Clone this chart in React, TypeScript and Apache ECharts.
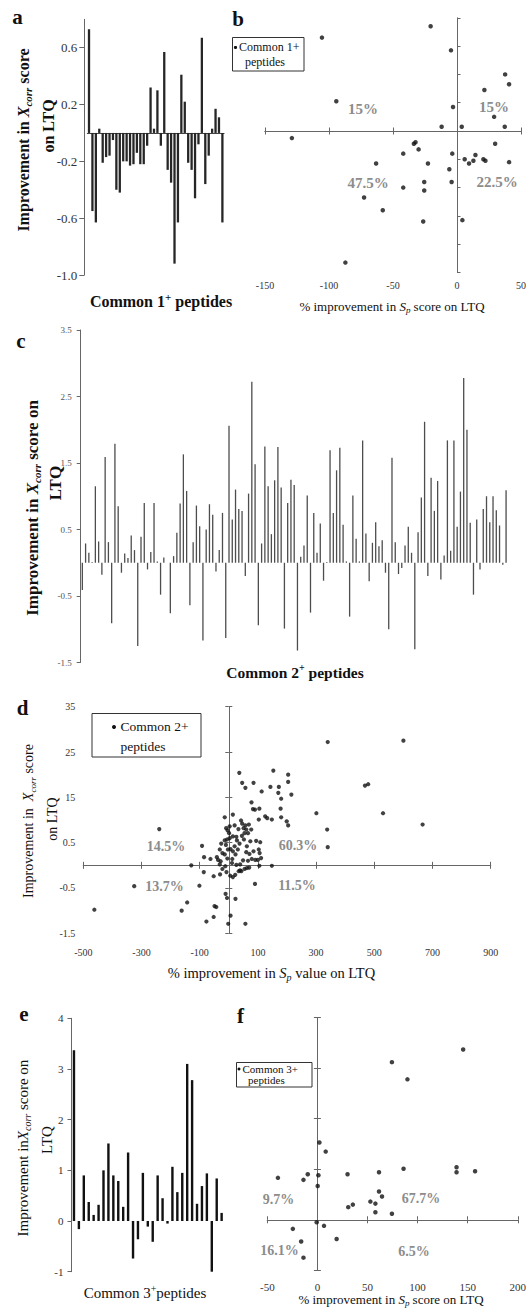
import React, { useEffect, useRef } from "react";
import * as echarts from "echarts";

// ---------- data ----------
const aValues = [0.73, -0.55, -0.63, 0.03, -0.21, -0.17, -0.16, -0.05, -0.4, -0.42, -0.2, -0.2, -0.23, -0.22, -0.14, -0.22, -0.22, -0.09, 0.32, 0.03, 0.3, -0.09, 0.57, -0.26, -0.35, -0.92, -0.63, 0.41, 0.22, -0.21, -0.26, -0.46, -0.08, 0.67, -0.36, -0.16, 0.03, 0.17, 0.11, -0.63];
const aTicks = [-1.0, -0.6, -0.2, 0.2, 0.6];

const bPoints = [
  [-20.6, 0.74], [-105.5, 0.66], [-4.7, 0.57], [37.6, 0.4], [40.7, 0.33], [21.4, 0.29], [-94.3, 0.21], [-3.1, 0.17], [29.0, 0.1], [-12.0, 0.03], [3.7, 0.03], [37.3, 0.03],
  [-129, -0.05], [-33.7, -0.09], [-32.4, -0.08], [29.8, -0.09], [-30.0, -0.13], [-42.0, -0.16], [-3.7, -0.16], [6.0, -0.2], [14.4, -0.17], [9.4, -0.23], [12.8, -0.21], [20.6, -0.2],
  [22.2, -0.21], [40.7, -0.22], [-63.2, -0.23], [-22.7, -0.23], [-6.0, -0.27], [-25.6, -0.36], [-4.2, -0.36], [-42.0, -0.4], [-25.6, -0.42], [-72.6, -0.47], [-58.0, -0.56], [-26.4, -0.64],
  [4.2, -0.63], [-87.2, -0.93]
];
const bXTicks = [-150, -100, -50, 0, 50];

const cValues = [
  -0.41, 0.29, 0.15, 0.01, 1.15, 0.32, -0.18, 1.59, 0.31, -0.91,
  1.79, 0.85, -0.15, 0.14, 0.07, 0.41, 0.19, -1.25, 0.39, 0.9,
  -0.1, 0.16, 0.9, 0.02, -0.48, 0.08, 0, -0.76, 0.1, 0.45,
  0.89, 1.63, 1.08, -0.64, 0.31, 0.86, 0.55, -1.17, 0.5, 0.88,
  0.72, -0.13, 0.19, 0.75, -1.13, 2.06, 0.65, 1.1, 0.81, 0.78,
  -0.2, 1.04, 2.72, 1.48, -0.94, 0.29, 1.75, 1.15, 0.43, 1.24,
  1.74, 1.13, -0.99, 0.9, 1.25, 1.17, -1.32, 0.09, 0.26, 1.01,
  -0.75, 0.75, 0.15, 0.59, -0.27, 0.01, 1.69, 0.75, 1.39, 1.73,
  0.57, 0.02, -0.81, 1.01, 0.36, 0.02, 1.84, 0.44, -0.28, 0.3,
  0.61, 0.25, 0.34, -0.15, -1.0, 1.58, 0.31, -0.17, -0.08, 0.26,
  0.54, 0.15, -1.3, 0.46, 0.98, 2.12, -0.2, 1.28, 0.78, 1.23,
  -0.25, 0.11, 1.84, 0.18, 1.84, 0.54, 1.07, 2.78, 2.0, 0.6,
  -0.48, 0.65, -0.1, 0.81, 1.0, 0.61, 1.0, 0.79, 0.56, -0.03,
  1.09
];
const cTicks = [-1.5, -0.5, 0.5, 1.5, 2.5, 3.5];

const dPoints = [
  [340, 2.72], [600, 2.75], [468, 1.76], [479, 1.79], [301, 1.15], [530, 1.15], [666, 0.9], [338, 0.79], [340, 0.4], [-239, 0.8],
  [-462, -0.98], [-325, -0.46], [-143, -0.82], [-162, -1.0], [-129, 0.0], [-92, 0.43], [-86, -0.15], [-101, -0.45], [-85, 0.18], [-63, 0.14],
  [-52, -0.24], [-52, -1.14], [-77, -1.24], [-49, -0.9], [-43, -0.92], [-2, -1.29], [6, -1.11], [57, -1.29], [23, -0.74], [-11, -0.63],
  [-6, -0.72], [90, -0.41], [148, -0.01], [105, -0.01],
  [36, 2.04], [46, 1.82], [57, 1.71], [85, 1.82], [153, 2.09], [204, 2.0], [204, 1.84], [215, 1.56], [143, 1.73], [172, 1.73],
  [170, 1.6], [180, 1.47], [113, 1.63], [78, 1.39], [90, 1.23], [83, 1.24], [105, 1.25], [103, 1.01], [125, 1.08], [132, 1.04],
  [148, 1.01], [178, 1.25], [180, 1.06], [199, 0.97], [204, 0.88], [14, 1.12], [-14, 1.06],
  [-9, 0.82], [-4, 0.77], [1, 0.71], [3, 0.6], [14, 0.64], [26, 0.63], [-6, 0.57], [-14, 0.55], [-26, 0.48], [-31, 0.35],
  [-22, 0.27], [-14, 0.24], [-3, 0.35], [6, 0.36], [14, 0.31], [23, 0.24], [20, 0.42], [31, 0.35], [37, 0.48], [28, 0.55],
  [42, 0.99], [46, 0.92], [51, 0.82], [57, 0.88], [60, 0.79], [66, 0.71], [45, 0.65], [52, 0.57], [62, 0.42], [74, 0.53],
  [85, 0.31], [71, 0.25], [79, 0.14], [91, 0.12], [100, 0.12], [106, 0.27], [111, 0.16], [66, 0.1], [49, 0.11], [39, 0.02],
  [26, 0.01], [11, 0.05], [-28, 0.09], [-37, 0.12], [-41, 0.18], [-31, 0.02], [-12, -0.02], [-22, -0.08], [5, -0.23], [14, -0.26],
  [22, -0.21], [34, -0.13], [39, -0.11], [54, -0.08], [62, -0.06], [43, -0.13], [108, 0.51], [103, 0.35], [94, 0.54],
  [-10, 0.45], [-5, 0.15], [-8, -0.15], [-30, -0.2], [70, -0.05], [3, 0.86], [20, 0.88], [33, 0.8], [54, 0.71], [69, 0.9],
  [60, 0.29], [12, 0.14], [77, 0.79]
];
const dXTicks = [-500, -300, -100, 100, 300, 500, 700, 900];
const dYTicks = [-1.5, -0.5, 0.5, 1.5, 2.5, 3.5];
const dYLabels = ["-1.5", "-0.5", "0.5", "15", "25", "35"];

const eValues = [3.37, -0.16, 0.9, 0.375, 0.12, 0.32, 1.0, 1.53, 0.9, 0.79, 0.28, 1.35, -0.74, -0.36, 0.95, -0.11, -0.41, 0.9, 0.45, -0.05, 1.07, 0.57, 0.95, 3.1, 2.78, 0.34, 0.69, 0.94, -1.22, 0.84, 0.16];

const fPoints = [
  [145.5, 3.37], [74.4, 3.12], [89.9, 2.78], [2.0, 1.53], [8.3, 1.35], [86, 1.01], [138.9, 1.04], [138.9, 0.94], [157.4, 0.96], [-39.4, 0.83],
  [-9.6, 0.9], [-13.9, 0.79], [1.0, 0.88], [30.1, 0.9], [61.5, 0.94], [0.3, 0.67], [61.5, 0.56], [64.5, 0.46], [52.9, 0.36], [57.9, 0.32],
  [30.8, 0.25], [35.4, 0.3], [57.9, 0.15], [74.4, 0.12], [-0.7, -0.05], [6.6, -0.12], [19.2, -0.38], [-24.5, -0.18], [-16.2, -0.43], [-13.9, -0.75]
];

// ---------- styling helpers ----------
const SERIF = '"Liberation Serif", "Times New Roman", Times, serif';
const AX = "#666";
const INK = "#111";
const GRAY = "#8c8c8c";

function richSet(size: number, weight: string) {
  const sub = Math.round(size * 0.66);
  return {
    n: { fontSize: size, fontWeight: weight, fontFamily: SERIF, fill: INK, lineHeight: size + 4 },
    i: { fontSize: size, fontWeight: weight, fontStyle: "italic", fontFamily: SERIF, fill: INK, lineHeight: size + 4 },
    sub: { fontSize: sub, fontWeight: weight, fontStyle: "italic", fontFamily: SERIF, fill: INK, lineHeight: sub, verticalAlign: "bottom" },
    sup: { fontSize: sub, fontWeight: weight, fontFamily: SERIF, fill: INK, lineHeight: sub, verticalAlign: "top" },
  };
}

function txt(x: number, y: number, text: string, o: any = {}) {
  const size = o.size ?? 14;
  const weight = o.weight ?? "normal";
  const align = o.align ?? "center";
  return {
    type: "text",
    x,
    y,
    rotation: o.rot ? Math.PI / 2 : 0,
    silent: true,
    style: {
      text,
      fontSize: size,
      fontWeight: weight,
      fontFamily: SERIF,
      fill: o.color ?? INK,
      align,
      textAlign: align,
      verticalAlign: "middle",
      textVerticalAlign: "middle",
      rich: o.rich ? richSet(size, weight) : undefined,
    },
  };
}

const noSplit = { show: false };

function labelAxisX(grid: number, min: number, max: number, ticks: number[], size: number, margin: number) {
  return {
    type: "value", gridIndex: grid, min, max, position: "bottom",
    axisLine: { show: false, onZero: false },
    axisTick: { show: false },
    splitLine: noSplit,
    axisLabel: { customValues: ticks, fontSize: size, fontFamily: SERIF, color: "#333", margin, formatter: (v: number) => String(v) },
  };
}
function tickAxisX(grid: number, min: number, max: number, ticks: number[], inside: boolean, yIdx: number) {
  return {
    type: "value", gridIndex: grid, min, max, position: "bottom",
    axisLine: { show: true, onZero: true, onZeroAxisIndex: yIdx, lineStyle: { color: AX, width: 1 } },
    axisTick: { show: true, customValues: ticks, inside, length: 3.5, lineStyle: { color: AX, width: 1 } },
    axisLabel: { show: false },
    splitLine: noSplit,
  };
}
function tickAxisY(grid: number, min: number, max: number, ticks: number[], inside: boolean, xIdx: number) {
  return {
    type: "value", gridIndex: grid, min, max, position: "left",
    axisLine: { show: true, onZero: true, onZeroAxisIndex: xIdx, lineStyle: { color: AX, width: 1 } },
    axisTick: { show: true, customValues: ticks, inside, length: 3.5, lineStyle: { color: AX, width: 1 } },
    axisLabel: { show: false },
    splitLine: noSplit,
  };
}
function range(a: number, b: number, step: number) {
  const out: number[] = [];
  for (let v = a; v <= b + 1e-9; v += step) out.push(Math.round(v * 1000) / 1000);
  return out;
}

function buildOption() {
  const aCats = aValues.map((_, i) => String(i + 1));
  const cCats = cValues.map((_, i) => String(i + 1));
  const eCats = eValues.map((_, i) => String(i + 1));

  const grid = [
    { left: 87.3, top: 19.3, width: 136.8, height: 255.7 }, // a
    { left: 265, top: 17.8, width: 257, height: 254.7 }, // b
    { left: 80.7, top: 330, width: 427, height: 332.5 }, // c
    { left: 83.3, top: 706.7, width: 407.4, height: 226.6 }, // d
    { left: 71.5, top: 1018.3, width: 152.6, height: 253.4 }, // e
    { left: 267.3, top: 1017.7, width: 252, height: 252.6 }, // f
  ];

  const bYTicks = range(-1, 0.8, 0.2);
  const fYTicks = range(-1, 4, 1);
  const fXTicks = range(-50, 200, 50);

  const xAxis = [
    // 0: a
    { type: "category", gridIndex: 0, data: aCats, axisLine: { show: true, onZero: true, lineStyle: { color: "#444", width: 1 } }, axisTick: { show: false }, axisLabel: { show: false } },
    // 1-3: b
    labelAxisX(1, -150, 50, bXTicks, 10, 8),
    tickAxisX(1, -150, 50, bXTicks, false, 1),
    tickAxisX(1, -150, 50, bXTicks, true, 1),
    // 4: c
    { type: "category", gridIndex: 2, data: cCats, axisLine: { show: false }, axisTick: { show: false }, axisLabel: { show: false } },
    // 5-7: d
    labelAxisX(3, -500, 900, dXTicks, 10, 14),
    tickAxisX(3, -500, 900, dXTicks, false, 3),
    tickAxisX(3, -500, 900, dXTicks, true, 3),
    // 8: e
    { type: "category", gridIndex: 4, data: eCats, axisLine: { show: false }, axisTick: { show: false }, axisLabel: { show: false } },
    // 9-11: f
    labelAxisX(5, -50, 200, fXTicks, 11, 11),
    tickAxisX(5, -50, 200, fXTicks, false, 7),
    tickAxisX(5, -50, 200, fXTicks, true, 7),
  ];

  const yAxis = [
    // 0: a
    {
      type: "value", gridIndex: 0, min: -1.0, max: 0.8, offset: 3,
      axisLine: { show: true, onZero: false, lineStyle: { color: AX, width: 1 } },
      axisTick: { show: true, customValues: aTicks, length: 5, lineStyle: { color: AX } },
      axisLabel: { customValues: aTicks, fontSize: 13, fontFamily: SERIF, color: "#333", margin: 7, formatter: (v: number) => v.toFixed(1) },
      splitLine: noSplit,
    },
    // 1: b (line on x = 0, ticks to the right)
    tickAxisY(1, -1.0, 0.8, bYTicks, true, 1),
    // 2: c
    {
      type: "value", gridIndex: 2, min: -1.5, max: 3.5,
      axisLine: { show: true, onZero: false, lineStyle: { color: AX, width: 1 } },
      axisTick: { show: true, customValues: cTicks, length: 4, lineStyle: { color: AX } },
      axisLabel: { customValues: cTicks, fontSize: 9, fontFamily: SERIF, color: "#555", margin: 9, formatter: (v: number) => v.toFixed(1) },
      splitLine: noSplit,
    },
    // 3: d labels
    {
      type: "value", gridIndex: 3, min: -1.5, max: 3.5, position: "left",
      axisLine: { show: false, onZero: false },
      axisTick: { show: false },
      axisLabel: {
        customValues: dYTicks, fontSize: 10, fontFamily: SERIF, color: "#333", margin: 8,
        formatter: (v: number) => {
          const k = dYTicks.findIndex((t) => Math.abs(t - v) < 1e-6);
          return k >= 0 ? dYLabels[k] : "";
        },
      },
      splitLine: noSplit,
    },
    // 4-5: d tick axes
    tickAxisY(3, -1.5, 3.5, dYTicks, false, 5),
    tickAxisY(3, -1.5, 3.5, dYTicks, true, 5),
    // 6: e
    {
      type: "value", gridIndex: 4, min: -1, max: 4, interval: 1,
      axisLine: { show: true, onZero: false, lineStyle: { color: AX, width: 1 } },
      axisTick: { show: true, length: 4, lineStyle: { color: AX } },
      axisLabel: { fontSize: 11, fontFamily: SERIF, color: "#333", margin: 8 },
      splitLine: noSplit,
    },
    // 7-8: f
    tickAxisY(5, -1, 4, fYTicks, false, 9),
    tickAxisY(5, -1, 4, fYTicks, true, 9),
  ];

  const series = [
    { type: "bar", xAxisIndex: 0, yAxisIndex: 0, data: aValues, barWidth: 2.3, itemStyle: { color: "#262626" }, silent: true },
    { type: "scatter", xAxisIndex: 1, yAxisIndex: 1, data: bPoints, symbol: "circle", symbolSize: 4.5, itemStyle: { color: INK }, silent: true },
    { type: "bar", xAxisIndex: 4, yAxisIndex: 2, data: cValues, barWidth: 1.3, itemStyle: { color: "#4d4d4d" }, silent: true },
    { type: "scatter", xAxisIndex: 5, yAxisIndex: 3, data: dPoints, symbol: "circle", symbolSize: 4.2, itemStyle: { color: INK }, silent: true },
    { type: "bar", xAxisIndex: 8, yAxisIndex: 6, data: eValues, barWidth: 2.4, itemStyle: { color: INK }, silent: true },
    { type: "scatter", xAxisIndex: 9, yAxisIndex: 7, data: fPoints, symbol: "circle", symbolSize: 4.5, itemStyle: { color: INK }, silent: true },
  ];

  const xcorr = (pre: string, post: string) => `{n|${pre}}{i|X}{sub|corr}{n|${post}}`;
  const sp = (pre: string, post: string) => `{n|${pre}}{i|S}{sub|p}{n|${post}}`;

  const elements: any[] = [
    // panel letters
    txt(17.5, 17, "a", { size: 21, weight: "bold" }),
    txt(238, 19, "b", { size: 21, weight: "bold" }),
    txt(21, 341, "c", { size: 21, weight: "bold" }),
    txt(22.5, 708, "d", { size: 21, weight: "bold" }),
    txt(24, 1014, "e", { size: 21, weight: "bold" }),
    txt(240.5, 1016, "f", { size: 21, weight: "bold" }),

    // panel a
    txt(23, 140, xcorr("Improvement in ", " score"), { size: 16, weight: "bold", rot: true, rich: true }),
    txt(48, 126, "{n|on LTQ}", { size: 16, weight: "bold", rot: true, rich: true }),
    txt(161, 301, "{n|Common 1}{sup|+}{n| peptides}", { size: 16, weight: "bold", rich: true }),

    // panel b
    { type: "rect", shape: { x: 232.5, y: 37.5, width: 71.5, height: 33.5 }, style: { fill: "#fff", stroke: "#333", lineWidth: 1 }, silent: true, z: 10 },
    { type: "circle", shape: { cx: 235.5, cy: 47.5, r: 1.6 }, style: { fill: INK }, silent: true, z: 11 },
    { ...txt(239, 47, "Common 1+", { size: 12, align: "left" }), z: 11 },
    { ...txt(245, 62, "peptides", { size: 12, align: "left" }), z: 11 },
    txt(363, 109, "15%", { size: 15, weight: "bold", color: GRAY }),
    txt(494, 107, "15%", { size: 15, weight: "bold", color: GRAY }),
    txt(368, 183, "47.5%", { size: 15, weight: "bold", color: GRAY }),
    txt(497, 182, "22.5%", { size: 15, weight: "bold", color: GRAY }),
    txt(392, 306, sp("% improvement in ", " score on LTQ"), { size: 13, rich: true }),

    // panel c
    txt(32, 508, xcorr("Improvement in ", " score on"), { size: 17, weight: "bold", rot: true, rich: true }),
    txt(55, 483, "{n|LTQ}", { size: 17, weight: "bold", rot: true, rich: true }),
    txt(295, 672, "{n|Common 2}{sup|+}{n| peptides}", { size: 15.5, weight: "bold", rich: true }),

    // panel d
    { type: "rect", shape: { x: 92, y: 713.5, width: 109, height: 43.5 }, style: { fill: "#fff", stroke: "#333", lineWidth: 1 }, silent: true, z: 10 },
    { type: "circle", shape: { cx: 114, cy: 727, r: 2 }, style: { fill: INK }, silent: true, z: 11 },
    { ...txt(120.5, 726.5, "Common 2+", { size: 13.5, align: "left" }), z: 11 },
    { ...txt(120.5, 746.5, "peptides", { size: 13.5, align: "left" }), z: 11 },
    txt(166, 846.5, "14.5%", { size: 14, weight: "bold", color: GRAY }),
    txt(298, 845, "60.3%", { size: 14, weight: "bold", color: GRAY }),
    txt(164.5, 886.5, "13.7%", { size: 14, weight: "bold", color: GRAY }),
    txt(297, 885.5, "11.5%", { size: 14, weight: "bold", color: GRAY }),
    txt(28, 821, xcorr("Improvement in  ", " score"), { size: 14, rot: true, rich: true }),
    txt(52, 819, "{n|on LTQ}", { size: 14, rot: true, rich: true }),
    txt(271.5, 973, sp("% improvement in ", " value on LTQ"), { size: 14.5, rich: true }),

    // panel e
    txt(23, 1148, xcorr("Improvement in", " score on"), { size: 15, rot: true, rich: true }),
    txt(47, 1140, "{n|LTQ}", { size: 15, rot: true, rich: true }),
    txt(145, 1293, "{n|Common 3}{sup|+}{n|peptides}", { size: 15, rich: true }),

    // panel f
    { type: "rect", shape: { x: 236.5, y: 1062.5, width: 75.5, height: 24.5 }, style: { fill: "#fff", stroke: "#333", lineWidth: 1 }, silent: true, z: 10 },
    { type: "circle", shape: { cx: 239, cy: 1069, r: 1.5 }, style: { fill: INK }, silent: true, z: 11 },
    { ...txt(242.5, 1069, "Common 3+", { size: 11, align: "left" }), z: 11 },
    { ...txt(248, 1080, "peptides", { size: 11, align: "left" }), z: 11 },
    txt(278.5, 1199, "9.7%", { size: 14, weight: "bold", color: GRAY }),
    txt(421, 1198.5, "67.7%", { size: 14, weight: "bold", color: GRAY }),
    txt(279.5, 1250, "16.1%", { size: 14, weight: "bold", color: GRAY }),
    txt(414, 1251, "6.5%", { size: 14, weight: "bold", color: GRAY }),
    txt(391, 1299, sp("% improvement in ", " score on LTQ"), { size: 13, rich: true }),
  ];

  return {
    animation: false,
    backgroundColor: "#ffffff",
    textStyle: { fontFamily: SERIF },
    grid,
    xAxis,
    yAxis,
    series,
    graphic: { elements },
  };
}

export default function App() {
  const ref = useRef<HTMLDivElement | null>(null);
  useEffect(() => {
    document.body.style.margin = "0";
    if (!ref.current) return;
    const chart = echarts.init(ref.current, null, { renderer: "svg" });
    chart.setOption(buildOption() as any);
    return () => chart.dispose();
  }, []);
  return <div ref={ref} style={{ width: 529, height: 1310, background: "#fff" }} />;
}
